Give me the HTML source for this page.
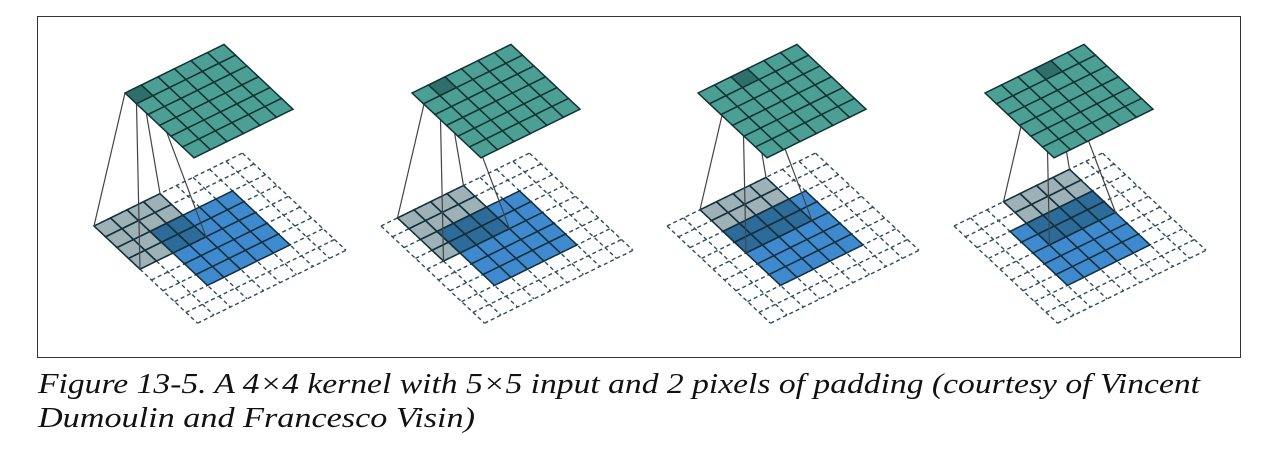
<!DOCTYPE html>
<html><head><meta charset="utf-8"><style>
html,body{margin:0;padding:0;background:#fff;}
svg{display:block;}
</style></head><body>
<svg id="fig" width="1280" height="468" viewBox="0 0 1280 468" xmlns="http://www.w3.org/2000/svg">
<rect x="37.5" y="16.5" width="1203" height="341" fill="#fff" stroke="#333" stroke-width="1"/>
<g id="panels"></g>
<text x="38" y="393" font-family="Liberation Serif, serif" font-style="italic" font-size="28" fill="#111" textLength="1162" lengthAdjust="spacingAndGlyphs">Figure 13-5. A 4×4 kernel with 5×5 input and 2 pixels of padding (courtesy of Vincent</text>
<text x="38" y="427" font-family="Liberation Serif, serif" font-style="italic" font-size="28" fill="#111" textLength="437" lengthAdjust="spacingAndGlyphs">Dumoulin and Francesco Visin)</text>
</svg>
<script>
const kernelSteps = [0, 1, 2, 3];
const panelOffsets = [0, 287, 573, 860];
const paddedSize = 9, inputSize = 5, padding = 2, kernelSize = 4, outputSize = 6;
const NS = 'http://www.w3.org/2000/svg';
const U = [16.5, -8.1], V = [11.5, 10.8];
const P0 = [94, 226], T0 = [125, 93];
function pt(o, a, b, dx) { return [o[0] + dx + a * U[0] + b * V[0], o[1] + a * U[1] + b * V[1]]; }
function poly(g, pts, fill, stroke, sw, extra) {
  const p = document.createElementNS(NS, 'polygon');
  p.setAttribute('points', pts.map(q => q[0].toFixed(1) + ',' + q[1].toFixed(1)).join(' '));
  p.setAttribute('fill', fill); p.setAttribute('stroke', stroke); p.setAttribute('stroke-width', sw);
  if (extra) p.setAttribute('fill-opacity', extra);
  g.appendChild(p); return p;
}
function line(g, a, b, stroke, sw, dash) {
  const l = document.createElementNS(NS, 'line');
  l.setAttribute('x1', a[0]); l.setAttribute('y1', a[1]); l.setAttribute('x2', b[0]); l.setAttribute('y2', b[1]);
  l.setAttribute('stroke', stroke); l.setAttribute('stroke-width', sw);
  if (dash) l.setAttribute('stroke-dasharray', dash);
  g.appendChild(l); return l;
}
const root = document.getElementById('panels');
kernelSteps.forEach((k, i) => {
  const dx = panelOffsets[i];
  const g = document.createElementNS(NS, 'g');
  
  
  root.appendChild(g);
  const pg = document.createElementNS(NS, 'g');
  
  
  g.appendChild(pg);
  for (let j = 0; j <= paddedSize; j++) {
    line(pg, pt(P0, j, 0, dx), pt(P0, j, paddedSize, dx), '#2f4f5a', 1.4, '4,3');
    line(pg, pt(P0, 0, j, dx), pt(P0, paddedSize, j, dx), '#2f4f5a', 1.4, '4,3');
  }
  const ig = document.createElementNS(NS, 'g');
  
  
  g.appendChild(ig);
  for (let a = 0; a < inputSize; a++) for (let b = 0; b < inputSize; b++) {
    const A = a + padding, B = b + padding;
    poly(ig, [pt(P0, A, B, dx), pt(P0, A + 1, B, dx), pt(P0, A + 1, B + 1, dx), pt(P0, A, B + 1, dx)], '#3f89cf', '#14303c', 1.5);
  }
  const kg = document.createElementNS(NS, 'g');
  
  
  g.appendChild(kg);
  for (let a = 0; a < kernelSize; a++) for (let b = 0; b < kernelSize; b++) {
    const A = a + k, B = b;
    poly(kg, [pt(P0, A, B, dx), pt(P0, A + 1, B, dx), pt(P0, A + 1, B + 1, dx), pt(P0, A, B + 1, dx)], '#154551', '#14303c', 1.5, '0.42');
  }
  const lg = document.createElementNS(NS, 'g');
  
  
  g.appendChild(lg);
  [[0, 0], [1, 0], [0, 1], [1, 1]].forEach(c => {
    line(lg, pt(T0, k + c[0], c[1], dx), pt(P0, k + c[0] * kernelSize, c[1] * kernelSize, dx), '#444', 1.2);
  });
  const og = document.createElementNS(NS, 'g');
  
  
  g.appendChild(og);
  for (let a = 0; a < outputSize; a++) for (let b = 0; b < outputSize; b++) {
    const fill = (a === k && b === 0) ? '#2f6f6b' : '#4c9f95';
    poly(og, [pt(T0, a, b, dx), pt(T0, a + 1, b, dx), pt(T0, a + 1, b + 1, dx), pt(T0, a, b + 1, dx)], fill, '#123432', 1.5);
  }
});
</script>
</body></html>
